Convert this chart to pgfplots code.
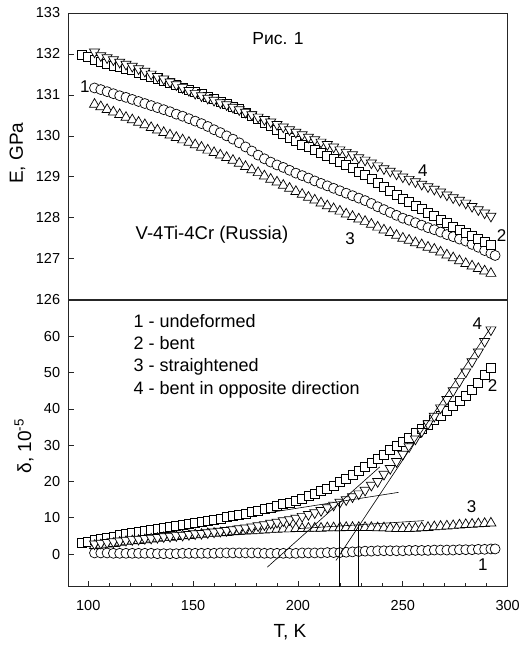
\documentclass[border=0pt]{standalone}
\usepackage{pgfplots}
\pgfplotsset{compat=1.18}
\usepackage{pgfplotstable}
\usepackage{fontspec}
\setmainfont{Liberation Sans}
\newcommand{\fs}[1]{\fontsize{#1bp}{#1bp}\selectfont}

\pgfplotstableread{
T E1 E2 E3 E4 d1 d2 d3 d4
97 nan 131.98 nan nan nan 3.0 nan nan
100 nan 131.92 nan nan nan 3.4 nan nan
103 131.17 131.86 130.77 132.05 0.3 3.8 2.3 2.8
106 131.13 131.80 130.71 131.96 0.3 4.1 2.5 3.0
109 131.08 131.76 130.64 131.91 0.3 4.5 2.7 3.2
112 131.03 131.72 130.58 131.86 0.2 4.8 2.9 3.4
115 130.98 131.68 130.52 131.80 0.2 5.2 3.2 3.6
118 130.94 131.64 130.45 131.75 0.2 5.5 3.4 3.8
121 130.89 131.60 130.39 131.70 0.2 5.8 3.6 4.0
124 130.84 131.55 130.33 131.64 0.2 6.1 3.7 4.1
127 130.79 131.50 130.27 131.58 0.2 6.4 3.9 4.3
130 130.74 131.45 130.20 131.51 0.2 6.7 4.1 4.4
133 130.69 131.40 130.14 131.45 0.1 7.0 4.3 4.6
136 130.64 131.34 130.08 131.39 0.1 7.2 4.5 4.8
139 130.59 131.29 130.02 131.32 0.1 7.5 4.6 4.9
142 130.53 131.24 129.96 131.25 0.1 7.8 4.8 5.1
145 130.48 131.18 129.90 131.18 0.2 8.0 5.0 5.2
148 130.42 131.13 129.84 131.11 0.2 8.3 5.1 5.4
151 130.36 131.07 129.78 131.04 0.2 8.6 5.3 5.6
154 130.30 131.02 129.72 130.98 0.2 8.9 5.4 5.7
157 130.23 130.96 129.65 130.92 0.2 9.2 5.6 5.9
160 130.15 130.90 129.59 130.87 0.2 9.5 5.7 6.1
163 130.08 130.84 129.53 130.81 0.3 9.8 5.8 6.3
166 130.00 130.78 129.47 130.76 0.3 10.2 5.9 6.5
169 129.92 130.72 129.40 130.70 0.3 10.5 6.1 6.7
172 129.83 130.65 129.33 130.64 0.3 10.8 6.2 7.0
175 129.73 130.57 129.25 130.58 0.3 11.2 6.3 7.2
178 129.63 130.49 129.17 130.52 0.3 11.6 6.4 7.5
181 129.53 130.41 129.10 130.46 0.3 11.9 6.5 7.8
184 129.44 130.33 129.02 130.40 0.2 12.4 6.6 8.1
187 129.36 130.24 128.94 130.34 0.2 12.8 6.7 8.5
190 129.29 130.15 128.87 130.28 0.2 13.2 6.8 8.8
193 129.23 130.06 128.79 130.22 0.2 13.7 6.9 9.2
196 129.16 129.96 128.72 130.15 0.2 14.2 6.9 9.5
199 129.09 129.87 128.64 130.09 0.2 14.6 7.0 9.9
202 129.03 129.79 128.57 130.03 0.3 15.2 7.0 10.4
205 128.97 129.72 128.50 129.97 0.3 15.9 7.1 10.9
208 128.90 129.65 128.43 129.91 0.3 16.6 7.1 11.4
211 128.84 129.58 128.36 129.85 0.3 17.3 7.1 12.0
214 128.78 129.52 128.29 129.79 0.4 18.1 7.2 12.8
217 128.72 129.45 128.22 129.73 0.4 18.9 7.2 13.5
220 128.66 129.37 128.16 129.66 0.4 19.8 7.2 14.3
223 128.60 129.29 128.09 129.60 0.5 20.8 7.3 15.0
226 128.54 129.21 128.03 129.54 0.6 21.9 7.3 15.8
229 128.48 129.13 127.97 129.47 0.7 22.9 7.3 16.6
232 128.42 129.05 127.91 129.41 0.8 24.0 7.3 17.6
235 128.35 128.96 127.84 129.34 0.8 25.1 7.3 19.0
238 128.27 128.86 127.77 129.27 0.9 26.3 7.2 20.0
241 128.20 128.76 127.70 129.20 0.9 27.4 7.2 22.0
244 128.13 128.66 127.64 129.14 0.9 28.6 7.1 23.6
247 128.06 128.55 127.57 129.07 0.9 29.8 7.0 25.5
250 127.99 128.46 127.50 129.00 0.9 31.0 7.0 27.5
253 127.94 128.38 127.45 128.94 1.0 32.1 7.0 29.6
256 127.88 128.30 127.39 128.88 1.0 33.3 7.1 31.7
259 127.82 128.21 127.34 128.82 1.0 34.4 7.2 33.8
262 127.76 128.13 127.28 128.76 1.0 35.6 7.3 35.9
265 127.71 128.05 127.23 128.70 1.1 36.9 7.5 38.0
268 127.65 127.96 127.16 128.63 1.1 38.2 7.6 40.3
271 127.59 127.88 127.09 128.56 1.1 39.4 7.7 42.6
274 127.54 127.79 127.02 128.49 1.1 40.8 7.8 45.0
277 127.48 127.71 126.95 128.43 1.2 42.1 8.0 47.6
280 127.43 127.62 126.88 128.36 1.2 43.5 8.1 50.2
283 127.35 127.55 126.82 128.28 1.2 45.3 8.2 53.0
286 127.28 127.48 126.76 128.20 1.3 47.2 8.3 55.7
289 127.20 127.42 126.70 128.12 1.3 49.3 8.4 58.6
292 127.13 127.35 126.64 128.04 1.4 51.2 8.5 61.8
294 127.08 nan nan nan 1.4 nan nan nan
}\data

\pgfplotsset{
  myaxis/.style={
    scale only axis, width=439.4bp, height=286.7bp, anchor=south west,
    xmin=90.5, xmax=300,
    tick align=inside, xtick pos=bottom, ytick pos=left,
    major tick length=6bp, minor tick length=3.5bp,
    axis line style={line width=0.8bp, black!85},
    every tick/.style={black!85, line width=0.7bp},
    tick label style={font=\fs{14.5}},
    yticklabel style={anchor=east, inner sep=0pt, xshift=-8bp},
    xticklabel style={anchor=north, inner sep=0pt, yshift=-13bp},
    /pgf/number format/assume math mode=true,
    label style={font=\fs{19}},
    clip mode=individual,
  },
  s1/.style={only marks, mark=*, mark size=5bp, mark options={fill=white, draw=black, line width=0.7bp}},
  s2/.style={only marks, mark=square*, mark size=4.5bp, mark options={fill=white, draw=black, line width=0.7bp}},
  s3/.style={only marks, mark=triangle*, mark size=5.8bp, mark options={fill=white, draw=black, line width=0.7bp}},
  s4/.style={only marks, mark=triangle*, mark size=5.8bp, mark options={fill=white, draw=black, line width=0.7bp, rotate=180}},
  tl/.style={black, line width=0.6bp, no marks},
}

\begin{document}
\begin{tikzpicture}
\useasboundingbox (0,0) rectangle (520bp,645bp);

% top panel
\begin{axis}[myaxis, at={(68.3bp,345.3bp)},
  ymin=126, ymax=133, ytick={126,127,...,133}, xtick=\empty,
  ylabel={E, GPa},
  ylabel style={at={(axis description cs:-0.1156,0.511)}, anchor=center},
]
\addplot[s1] table[x=T, y=E1] {\data};
\addplot[s2] table[x=T, y=E2] {\data};
\addplot[s3] table[x=T, y=E3] {\data};
\addplot[s4] table[x=T, y=E4] {\data};
\node[font=\fs{17.5}] at (axis cs:190.5,132.37) {Рис. 1};
\node[font=\fs{18.5}] at (axis cs:159,127.58) {V-4Ti-4Cr (Russia)};
\node[font=\fs{17}] at (axis cs:98.4,131.19) {1};
\node[font=\fs{17}] at (axis cs:259.5,129.15) {4};
\node[font=\fs{17}] at (axis cs:224.8,127.5) {3};
\node[font=\fs{17}] at (axis cs:297.1,127.56) {2};
\end{axis}

% bottom panel
\begin{axis}[myaxis, at={(68.3bp,58.3bp)},
  ymin=-9, ymax=70, ytick={0,10,...,60},
  xtick={100,150,...,300}, minor x tick num=4,
  xlabel={T, K},
  xlabel style={at={(axis description cs:0.5045,-0.160)}, anchor=center},
  ylabel={δ, 10\textsuperscript{-5}},
  ylabel style={at={(axis description cs:-0.1008,0.49)}, anchor=center},
]
\addplot[s1] table[x=T, y=d1] {\data};
\addplot[s2] table[x=T, y=d2] {\data};
\addplot[s3] table[x=T, y=d3] {\data};
\addplot[s4] table[x=T, y=d4] {\data};
\addplot[tl] coordinates {(185.4,-3.6) (239,24.0)};
\addplot[tl] coordinates {(218.1,-1.8) (292,62.5)};
\addplot[tl] coordinates {(185,11.3) (248,17.0)};
\addplot[tl] coordinates {(200,7.0) (260,9.2)};
\addplot[tl] coordinates {(219.5,-9) (219.5,14.4)};
\addplot[tl] coordinates {(228.8,-9) (228.8,8.1)};
\node[font=\fs{18}, anchor=west, inner sep=0pt] at (axis cs:121.5,64.1) {1 - undeformed};
\node[font=\fs{18}, anchor=west, inner sep=0pt] at (axis cs:121.5,58.0) {2 - bent};
\node[font=\fs{18}, anchor=west, inner sep=0pt] at (axis cs:121.5,51.6) {3 - straightened};
\node[font=\fs{18}, anchor=west, inner sep=0pt] at (axis cs:121.5,45.3) {4 - bent in opposite direction};
\node[font=\fs{17}] at (axis cs:285.5,63.5) {4};
\node[font=\fs{17}] at (axis cs:292.8,46.3) {2};
\node[font=\fs{17}] at (axis cs:282.8,13.1) {3};
\node[font=\fs{17}] at (axis cs:288.1,-3.0) {1};
\end{axis}
\end{tikzpicture}
\end{document}
